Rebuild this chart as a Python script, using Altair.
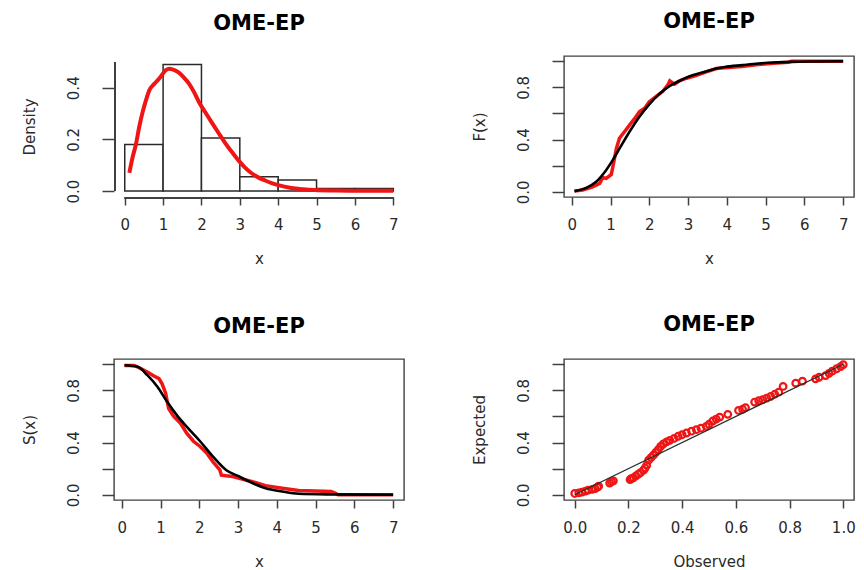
import altair as alt
import pandas as pd

# ---------------- data ----------------
# Panel 1: histogram (density) + fitted density curve
hist_start = [0, 1, 2, 3, 4, 5, 6]
hist_end = [1, 2, 3, 4, 5, 6, 7]
hist_density = [0.18, 0.49, 0.205, 0.055, 0.043, 0.01, 0.01]

dens_x = [0.12, 0.2, 0.29, 0.38, 0.47, 0.56, 0.64, 0.77, 0.9, 1.07,
          1.16, 1.28, 1.41, 1.54, 1.67, 1.8, 1.93, 2.1, 2.28, 2.45,
          2.62, 2.8, 2.97, 3.13, 3.3, 3.48, 3.66, 3.83, 4.0, 4.34,
          4.65, 4.95, 5.5, 6.0, 6.5, 7.0]
dens_y = [0.07, 0.128, 0.18, 0.25, 0.308, 0.355, 0.39, 0.415, 0.436, 0.468,
          0.474, 0.469, 0.459, 0.44, 0.417, 0.385, 0.346, 0.305, 0.263, 0.224,
          0.186, 0.15, 0.118, 0.092, 0.07, 0.053, 0.041, 0.031, 0.023, 0.012,
          0.007, 0.004, 0.002, 0.001, 0.001, 0.001]

# Panel 2: fitted CDF (black) and empirical CDF (red)
cdf_x = [0.07, 0.37, 0.63, 0.89, 1.06, 1.23, 1.49, 1.75, 2.0, 2.26, 2.53,
         2.78, 3.04, 3.39, 3.73, 3.95, 4.4, 4.81, 5.2, 5.67, 6.3, 7.0]
cdf_y = [0.005, 0.03, 0.077, 0.167, 0.244, 0.33, 0.46, 0.577, 0.67, 0.75, 0.81,
         0.85, 0.885, 0.915, 0.944, 0.956, 0.97, 0.982, 0.99, 0.995, 0.998, 1.0]
ecdf_x = [0.07, 0.28, 0.54, 0.72, 0.8, 0.89, 1.02, 1.06, 1.15, 1.23,
          1.36, 1.49, 1.62, 1.75, 1.88, 2.0, 2.18, 2.35, 2.48, 2.53,
          2.65, 2.78, 2.96, 3.2, 3.47, 3.73, 3.95, 4.38, 4.81, 5.2,
          5.58, 5.67, 7.0]
ecdf_y = [0.005, 0.013, 0.038, 0.064, 0.108, 0.103, 0.133, 0.19, 0.33, 0.41,
          0.46, 0.51, 0.56, 0.615, 0.64, 0.69, 0.73, 0.77, 0.82, 0.85,
          0.825, 0.85, 0.87, 0.89, 0.918, 0.944, 0.95, 0.96, 0.974, 0.985,
          0.992, 1.0, 1.0]

# Panel 3: fitted survival (black) and empirical survival (red)
surv_x = [0.07, 0.41, 0.66, 0.92, 1.17, 1.42, 1.68, 2.02, 2.36, 2.69, 3.03,
          3.37, 3.71, 4.14, 4.56, 5.4, 7.0]
surv_y = [0.992, 0.98, 0.916, 0.827, 0.712, 0.61, 0.52, 0.41, 0.29, 0.19, 0.14,
          0.09, 0.05, 0.025, 0.008, 0.003, 0.0]
esurv_x = [0.07, 0.32, 0.49, 0.66, 0.83, 0.96, 1.04, 1.13, 1.21, 1.34,
           1.51, 1.68, 1.85, 2.02, 2.19, 2.36, 2.53, 2.57, 2.69, 2.86,
           3.03, 3.37, 3.71, 4.14, 4.56, 5.4, 5.5, 5.58, 7.0]
esurv_y = [0.99, 0.99, 0.967, 0.94, 0.91, 0.89, 0.85, 0.78, 0.66, 0.6,
           0.55, 0.47, 0.41, 0.37, 0.32, 0.25, 0.19, 0.15, 0.145, 0.14,
           0.127, 0.1, 0.07, 0.05, 0.033, 0.025, 0.013, 0.0, 0.0]

# Panel 4: P-P plot
pp_observed = [0.0, 0.015, 0.027, 0.04, 0.05, 0.065, 0.076, 0.085, 0.089, 0.13,
               0.137, 0.144, 0.206, 0.212, 0.218, 0.228, 0.237, 0.245, 0.256, 0.262,
               0.268, 0.275, 0.284, 0.293, 0.302, 0.311, 0.32, 0.33, 0.342, 0.354,
               0.37, 0.385, 0.4, 0.416, 0.435, 0.453, 0.47, 0.49, 0.5, 0.514,
               0.527, 0.54, 0.57, 0.61, 0.625, 0.636, 0.67, 0.685, 0.7, 0.715,
               0.73, 0.745, 0.76, 0.776, 0.823, 0.848, 0.897, 0.91, 0.934, 0.947,
               0.959, 0.975, 0.99, 1.0]
pp_expected = [0.01, 0.015, 0.02, 0.028, 0.036, 0.042, 0.048, 0.058, 0.066, 0.09,
               0.1, 0.107, 0.117, 0.125, 0.13, 0.145, 0.158, 0.17, 0.188, 0.205,
               0.226, 0.265, 0.285, 0.303, 0.325, 0.346, 0.37, 0.39, 0.405, 0.417,
               0.432, 0.448, 0.46, 0.473, 0.487, 0.499, 0.51, 0.524, 0.54, 0.565,
               0.58, 0.595, 0.616, 0.646, 0.655, 0.667, 0.71, 0.72, 0.728, 0.74,
               0.753, 0.77, 0.786, 0.83, 0.855, 0.87, 0.888, 0.9, 0.913, 0.93,
               0.947, 0.965, 0.982, 0.997]
diag_x = [0.0, 1.0]
diag_y = [0.0, 1.0]

# tick lists
x_ticks_7 = [0, 1, 2, 3, 4, 5, 6, 7]
x_ticks_pp = [0.0, 0.2, 0.4, 0.6, 0.8, 1.0]
y_ticks_dens = [0.0, 0.1, 0.2, 0.3, 0.4, 0.5]
y_labels_dens = [0.0, 0.2, 0.4]
y_ticks_prob = [0.0, 0.2, 0.4, 0.6, 0.8, 1.0]
y_labels_prob = [0.0, 0.4, 0.8]

TITLE = "OME-EP"

# ---------------- styling ----------------
FONT = "DejaVu Sans"
W, H = 290, 141
RED = "#f01515"
AX = "#404040"


def y_axis(values, shown, title):
    arr = "[" + ",".join(str(v) for v in shown) + "]"
    return alt.Axis(values=values, title=title,
                    labelExpr=f"indexof({arr}, datum.value) >= 0 ? format(datum.value, '.1f') : ''")


def x_axis(values, title, fmt):
    return alt.Axis(values=values, title=title, format=fmt)


def xs(domain, values, title, fmt="d"):
    return alt.X("x:Q", scale=alt.Scale(domain=domain, nice=False, zero=False),
                 axis=x_axis(values, title, fmt))


def ys(domain, values, shown, title):
    return alt.Y("y:Q", scale=alt.Scale(domain=domain, nice=False, zero=False),
                 axis=y_axis(values, shown, title))


# ---- Panel 1 ----
d_hist = pd.DataFrame({"x": hist_start, "x2": hist_end, "y": hist_density})
d_dens = pd.DataFrame({"x": dens_x, "y": dens_y})
x1 = xs([-0.28, 7.28], x_ticks_7, "x")
y1 = ys([-0.023, 0.523], y_ticks_dens, y_labels_dens, "Density")

bars = alt.Chart(d_hist).mark_rect(fill="white", stroke="#2a2a2a", strokeWidth=1.5).encode(
    x=x1, x2="x2:Q", y=y1, y2=alt.datum(0))
dens = alt.Chart(d_dens).mark_line(color=RED, strokeWidth=4, interpolate="monotone").encode(x=x1, y=y1)
xline = alt.Chart(d_hist).mark_rule(color=AX, strokeWidth=1.4).encode(
    x=alt.datum(x_ticks_7[0]), x2=alt.datum(x_ticks_7[-1]), y=alt.value(H + 1))
yline = alt.Chart(d_hist).mark_rule(color=AX, strokeWidth=1.4).encode(
    x=alt.value(1), y=alt.datum(y_ticks_dens[0]), y2=alt.datum(y_ticks_dens[-1]))
p1 = alt.layer(bars, dens, xline, yline).properties(
    width=W, height=H, title=TITLE, view=alt.ViewBackground(stroke="transparent"))

# ---- Panel 2 ----
x2s = xs([-0.2, 7.28], x_ticks_7, "x")
y2s = ys([-0.04, 1.04], y_ticks_prob, y_labels_prob, "F(x)")
e2 = alt.Chart(pd.DataFrame({"x": ecdf_x, "y": ecdf_y})).mark_line(color=RED, strokeWidth=3.5).encode(x=x2s, y=y2s)
f2 = alt.Chart(pd.DataFrame({"x": cdf_x, "y": cdf_y})).mark_line(color="black", strokeWidth=2.6, interpolate="monotone").encode(x=x2s, y=y2s)
p2 = alt.layer(e2, f2).properties(width=W, height=H, title=TITLE)

# ---- Panel 3 ----
x3s = xs([-0.2, 7.28], x_ticks_7, "x")
y3s = ys([-0.04, 1.04], y_ticks_prob, y_labels_prob, "S(x)")
e3 = alt.Chart(pd.DataFrame({"x": esurv_x, "y": esurv_y})).mark_line(color=RED, strokeWidth=3.5).encode(x=x3s, y=y3s)
f3 = alt.Chart(pd.DataFrame({"x": surv_x, "y": surv_y})).mark_line(color="black", strokeWidth=2.6, interpolate="monotone").encode(x=x3s, y=y3s)
p3 = alt.layer(e3, f3).properties(width=W, height=H, title=TITLE)

# ---- Panel 4 ----
x4s = xs([-0.04, 1.04], x_ticks_pp, "Observed", ".1f")
y4s = ys([-0.04, 1.04], y_ticks_prob, y_labels_prob, "Expected")
pts = alt.Chart(pd.DataFrame({"x": pp_observed, "y": pp_expected})).mark_point(
    shape="circle", filled=False, color=RED, size=44, strokeWidth=2.2, opacity=1).encode(x=x4s, y=y4s)
diag = alt.Chart(pd.DataFrame({"x": diag_x, "y": diag_y})).mark_line(color="#25302a", strokeWidth=1.3).encode(x=x4s, y=y4s)
p4 = alt.layer(pts, diag).properties(width=W, height=H, title=TITLE)

chart = alt.concat(p1, p2, p3, p4, columns=2,
                   spacing=alt.RowColnumber(row=162, column=160),
                   bounds="flush").properties(
    padding={"left": 13, "top": 2, "right": 0, "bottom": 0}
).configure_view(stroke=AX, strokeWidth=1.4).configure_axis(
    labelFont=FONT, labelFontSize=15, labelColor="#2a2a2a",
    titleFont=FONT, titleFontSize=15, titleFontWeight="normal", titleColor="#2a2a2a",
    tickColor=AX, tickWidth=1.5, domain=False, grid=False
).configure_axisX(
    tickSize=8, labelPadding=12, titlePadding=19
).configure_axisY(
    tickSize=12, labelAngle=270, labelAlign="center", labelBaseline="bottom",
    labelPadding=21, titlePadding=29
).configure_title(
    font=FONT, fontSize=21, fontWeight="bold", color="black", offset=22, anchor="middle"
)

chart.save("out.html", embed_options={"renderer": "svg", "actions": False})
